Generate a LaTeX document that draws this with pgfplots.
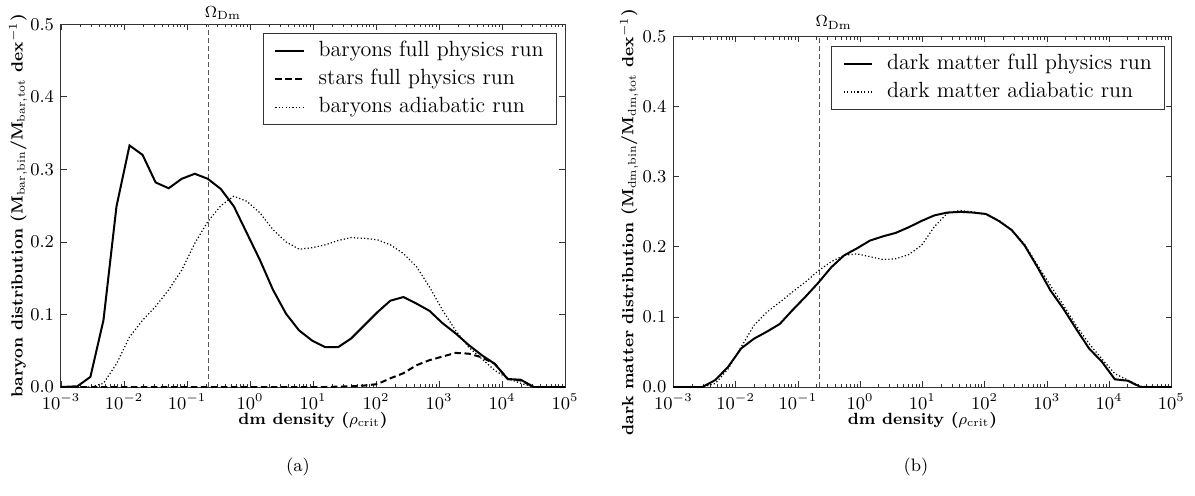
\documentclass[border=0pt]{standalone}
\usepackage{fontspec}
\usepackage{pgfplots}
\pgfplotsset{compat=1.18}
\usepackage{pgfplotstable}

\pgfplotstableread{
x bar stars adi
0.001 0 0 0
0.0018197 0.001 0 0
0.0029309 0.014 0 0
0.0047206 0.092 0 0.005
0.0076033 0.249 0 0.032
0.012246 0.333 0 0.069
0.019724 0.320 0 0.092
0.031769 0.282 0 0.111
0.051168 0.274 0 0.134
0.082414 0.287 0 0.161
0.13274 0.294 0 0.198
0.21380 0.287 0 0.228
0.34435 0.273 0 0.250
0.55463 0.249 0 0.263
0.89331 0.212 0 0.256
1.4388 0.175 0 0.240
2.3174 0.134 0 0.217
3.7325 0.101 0 0.200
6.0117 0.078 0 0.190
9.6828 0.064 0 0.192
15.596 0.055 0 0.196
25.119 0.055 0.0005 0.202
40.458 0.067 0.001 0.206
65.163 0.085 0.002 0.205
104.95 0.103 0.004 0.203
169.04 0.119 0.012 0.196
272.27 0.124 0.019 0.184
438.53 0.115 0.030 0.166
706.32 0.105 0.037 0.138
1137.6 0.088 0.042 0.106
1832.3 0.074 0.047 0.078
2951.2 0.058 0.046 0.055
4753.4 0.044 0.041 0.039
7656.0 0.032 0.032 0.023
12331 0.011 0.011 0.012
19861 0.010 0.009 0.005
31989 0 0 0
100000 0 0 0
}\tabL

\pgfplotstableread{
x full adi
0.001 0 0
0.0018197 0 0
0.0029309 0 0
0.0047206 0.010 0.005
0.0076033 0.029 0.026
0.012246 0.055 0.057
0.019724 0.069 0.088
0.031769 0.079 0.107
0.051168 0.090 0.121
0.082414 0.110 0.136
0.13274 0.129 0.150
0.21380 0.149 0.166
0.34435 0.171 0.179
0.55463 0.188 0.188
0.89331 0.198 0.190
1.4388 0.209 0.186
2.3174 0.215 0.182
3.7325 0.220 0.183
6.0117 0.228 0.189
9.6828 0.237 0.202
15.596 0.245 0.229
25.119 0.249 0.248
40.458 0.250 0.252
65.163 0.249 0.250
104.95 0.247 0.246
169.04 0.237 0.238
272.27 0.224 0.224
438.53 0.202 0.204
706.32 0.171 0.174
1137.6 0.138 0.145
1832.3 0.112 0.117
2951.2 0.083 0.088
4753.4 0.055 0.062
7656.0 0.036 0.040
12331 0.011 0.019
19861 0.009 0.010
31989 0 0.001
100000 0 0
}\tabR

\def\minorlist{2e-3,3e-3,4e-3,5e-3,6e-3,7e-3,8e-3,9e-3,
      2e-2,3e-2,4e-2,5e-2,6e-2,7e-2,8e-2,9e-2,
      0.2,0.3,0.4,0.5,0.6,0.7,0.8,0.9,
      2,3,4,5,6,7,8,9,
      20,30,40,50,60,70,80,90,
      200,300,400,500,600,700,800,900,
      2000,3000,4000,5000,6000,7000,8000,9000,
      20000,30000,40000,50000,60000,70000,80000,90000}

\tikzset{
  solidc/.style={black, line width=1pt},
  dashc/.style={black, line width=1pt, dash pattern=on 3.2pt off 1.8pt},
  dotc/.style={black, line width=0.6pt, dash pattern=on 0.6pt off 1.1pt},
  vlinec/.style={black!65, line width=0.6pt, dash pattern=on 2.5pt off 1.5pt},
}

\begin{document}
\begin{tikzpicture}[x=1pt,y=1pt]
\useasboundingbox (0,0) rectangle (597.5,247.5);

\begin{axis}[scale only axis, anchor=south west, clip mode=individual,
  at={(30.5pt,54pt)}, width=252pt, height=181.35pt,
  xmode=log,
  xmin=1e-3, xmax=1e5, ymin=0, ymax=0.5,
  xtick={1e-3,1e-2,1e-1,1,1e1,1e2,1e3,1e4,1e5},
  minor xtick/.expand once={\minorlist},
  ytick={0,0.1,0.2,0.3,0.4,0.5},
  y tick label style={/pgf/number format/fixed, /pgf/number format/fixed zerofill, /pgf/number format/precision=1},
  tick align=inside,
  major tick length=2.8pt, minor tick length=1.4pt,
  axis line style={black!80, line width=0.5pt},
  tick style={black!80, line width=0.4pt},
  tick label style={font=\fontsize{8.6}{10}\selectfont},
  label style={font=\fontsize{8.1}{10}\selectfont\bfseries},
  xlabel style={at={(axis description cs:0.5,0)}, anchor=base, yshift=-18.5pt},
  ylabel style={at={(axis description cs:0,0.5)}, anchor=base, yshift=19.2pt},
  legend cell align=left,
  legend image code/.code={\draw[#1] (0pt,0pt) -- (14.2pt,0pt);},
  legend style={at={(1,1)}, anchor=north east, xshift=-4pt, yshift=-4.5pt,
    draw=black!80, line width=0.5pt,
    font=\fontsize{11}{13}\selectfont,
    inner xsep=5.5pt, inner ysep=2.5pt, row sep=1.5pt, column sep=6pt,
    nodes={inner sep=1pt, text height=8pt, text depth=2.5pt}},
  xlabel={dm density ($\rho_{\mathrm{crit}}$)},
  ylabel={baryon distribution (M$_{\mathrm{bar,bin}}$/M$_{\mathrm{bar,tot}}$ dex$^{-1}$)}]
\addplot[vlinec, forget plot] coordinates {(0.22,0) (0.22,0.5)};
\addplot[solidc] table[x=x,y=bar]{\tabL};
\addlegendentry{baryons full physics run}
\addplot[dashc] table[x=x,y=stars]{\tabL};
\addlegendentry{stars full physics run}
\addplot[dotc] table[x=x,y=adi]{\tabL};
\addlegendentry{baryons adiabatic run}
\node[anchor=base west, inner sep=0pt, xshift=-2pt, yshift=3.5pt, font=\fontsize{8.5}{10}\selectfont] at (axis cs:0.22,0.5) {$\Omega_{\mathrm{Dm}}$};
\end{axis}

\begin{axis}[scale only axis, anchor=south west, clip mode=individual,
  at={(336.7pt,54pt)}, width=249pt, height=175.15pt,
  xmode=log,
  xmin=1e-3, xmax=1e5, ymin=0, ymax=0.5,
  xtick={1e-3,1e-2,1e-1,1,1e1,1e2,1e3,1e4,1e5},
  minor xtick/.expand once={\minorlist},
  ytick={0,0.1,0.2,0.3,0.4,0.5},
  y tick label style={/pgf/number format/fixed, /pgf/number format/fixed zerofill, /pgf/number format/precision=1},
  tick align=inside,
  major tick length=2.8pt, minor tick length=1.4pt,
  axis line style={black!80, line width=0.5pt},
  tick style={black!80, line width=0.4pt},
  tick label style={font=\fontsize{8.6}{10}\selectfont},
  label style={font=\fontsize{8.1}{10}\selectfont\bfseries},
  xlabel style={at={(axis description cs:0.5,0)}, anchor=base, yshift=-18.5pt},
  ylabel style={at={(axis description cs:0,0.47)}, anchor=base, yshift=20pt},
  legend cell align=left,
  legend image code/.code={\draw[#1] (0pt,0pt) -- (14.2pt,0pt);},
  legend style={at={(1,1)}, anchor=north east, xshift=-3pt, yshift=-4.6pt,
    draw=black!80, line width=0.5pt,
    font=\fontsize{11}{13}\selectfont,
    inner xsep=5.5pt, inner ysep=2.5pt, row sep=1.5pt, column sep=6pt,
    nodes={inner sep=1pt, text height=8pt, text depth=2.5pt}},
  xlabel={dm density ($\rho_{\mathrm{crit}}$)},
  ylabel={dark matter distribution (M$_{\mathrm{dm,bin}}$/M$_{\mathrm{dm,tot}}$ dex$^{-1}$)}]
\addplot[vlinec, forget plot] coordinates {(0.22,0) (0.22,0.5)};
\addplot[solidc] table[x=x,y=full]{\tabR};
\addlegendentry{dark matter full physics run}
\addplot[dotc] table[x=x,y=adi]{\tabR};
\addlegendentry{dark matter adiabatic run}
\node[anchor=base west, inner sep=0pt, xshift=-2pt, yshift=5pt, font=\fontsize{8.5}{10}\selectfont] at (axis cs:0.22,0.5) {$\Omega_{\mathrm{Dm}}$};
\end{axis}

\node[font=\fontsize{9}{11}\selectfont] at (149,14) {(a)};
\node[font=\fontsize{9}{11}\selectfont] at (458,14) {(b)};
\end{tikzpicture}
\end{document}
